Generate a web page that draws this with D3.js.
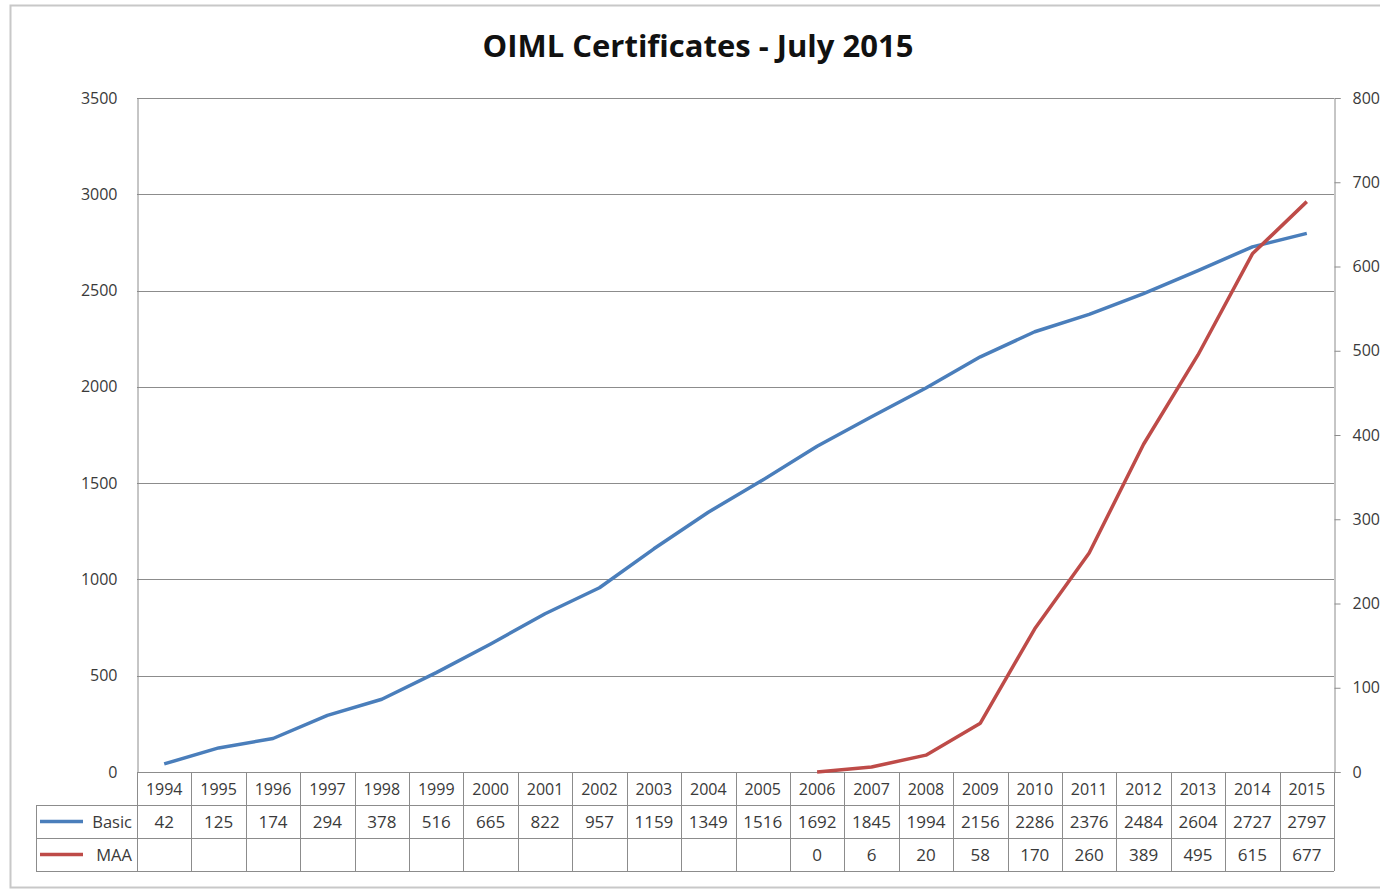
<!DOCTYPE html>
<html>
<head>
<meta charset="utf-8">
<script src="https://cdn.jsdelivr.net/npm/d3@7/dist/d3.min.js"></script>
<style>
  html, body { margin: 0; padding: 0; background: #fff; }
  svg { display: block; font-family: "Open Sans", "DejaVu Sans", sans-serif; }
</style>
</head>
<body>
<svg id="chart" width="1380" height="891"></svg>
<script>
/* OIML certificates: line chart with a data table under the x axis */

const years = ["1994", "1995", "1996", "1997", "1998", "1999", "2000", "2001", "2002", "2003", "2004",
  "2005", "2006", "2007", "2008", "2009", "2010", "2011", "2012", "2013", "2014", "2015"];
const basic = [42, 125, 174, 294, 378, 516, 665, 822, 957, 1159, 1349,
  1516, 1692, 1845, 1994, 2156, 2286, 2376, 2484, 2604, 2727, 2797];
const maa = [null, null, null, null, null, null, null, null, null, null, null,
  null, 0, 6, 20, 58, 170, 260, 389, 495, 615, 677];
const leftTicks = [0, 500, 1000, 1500, 2000, 2500, 3000, 3500];
const rightTicks = [0, 100, 200, 300, 400, 500, 600, 700, 800];

const BLUE = "#4a7ebb";
const RED = "#be4b48";
const GRID = "#8c8c8c";
const TXT = "#3a3a3a";

const svg = d3.select("#chart");

const plot = { left: 137, right: 1334, top: 98, bottom: 772 };
const rowH = 33;

// outer chart frame
svg.append("rect")
  .attr("x", 10.5).attr("y", 5.5)
  .attr("width", 1400).attr("height", 882)
  .attr("fill", "#fff")
  .attr("stroke", "#c8c8c8").attr("stroke-width", 2);

svg.append("text")
  .attr("x", 698).attr("y", 57)
  .attr("text-anchor", "middle")
  .attr("font-size", 31).attr("font-weight", "bold")
  .attr("fill", "#111")
  .text("OIML Certificates - July 2015");

const x = d3.scaleBand().domain(years).range([plot.left, plot.right]);
const yL = d3.scaleLinear().domain([0, 3500]).range([plot.bottom, plot.top]);
const yR = d3.scaleLinear().domain([0, 800]).range([plot.bottom, plot.top]);

// gridlines
svg.append("g")
  .selectAll("line")
  .data(leftTicks)
  .join("line")
  .attr("x1", plot.left).attr("x2", plot.right)
  .attr("y1", (d) => Math.round(yL(d)) + 0.5).attr("y2", (d) => Math.round(yL(d)) + 0.5)
  .attr("stroke", GRID).attr("stroke-width", 1);

// left axis
const leftAxis = svg.append("g")
  .attr("transform", `translate(${plot.left + 0.5},0)`)
  .call(d3.axisLeft(yL).tickValues(leftTicks).tickFormat(d3.format("d")).tickSize(0).tickPadding(20));
leftAxis.select(".domain").attr("stroke", GRID);
leftAxis.selectAll("text")
  .attr("font-size", 16).attr("fill", TXT)
  .attr("font-family", "Open Sans, sans-serif");

// right axis
const rightAxis = svg.append("g")
  .attr("transform", `translate(${plot.right + 0.5},0)`)
  .call(d3.axisRight(yR).tickValues(rightTicks).tickFormat(d3.format("d")).tickSize(6).tickPadding(12));
rightAxis.select(".domain").attr("stroke", GRID);
rightAxis.selectAll("line").attr("stroke", GRID);
rightAxis.selectAll("text")
  .attr("font-size", 16).attr("fill", TXT)
  .attr("font-family", "Open Sans, sans-serif");

// data table
const table = svg.append("g");
const rows = [
  { name: "Basic", values: basic, color: BLUE },
  { name: "MAA", values: maa, color: RED },
];
const legendLeft = 36;

// year header row
table.selectAll("text.year")
  .data(years)
  .join("text")
  .attr("class", "year")
  .attr("x", (d) => x(d) + x.bandwidth() / 2)
  .attr("y", plot.bottom + rowH / 2 + 6)
  .attr("text-anchor", "middle")
  .attr("font-size", 16).attr("fill", TXT)
  .text((d) => d);

rows.forEach((row, i) => {
  const top = plot.bottom + rowH * (i + 1);
  table.selectAll(`text.v${i}`)
    .data(row.values)
    .join("text")
    .attr("x", (d, j) => x(years[j]) + x.bandwidth() / 2)
    .attr("y", top + rowH / 2 + 6.5)
    .attr("text-anchor", "middle")
    .attr("font-size", 17).attr("fill", TXT)
    .text((d) => (d === null ? "" : d));

  table.append("line")
    .attr("x1", legendLeft + 4).attr("x2", legendLeft + 47)
    .attr("y1", top + rowH / 2).attr("y2", top + rowH / 2)
    .attr("stroke", row.color).attr("stroke-width", 3.5);
  table.append("text")
    .attr("x", plot.left - 5)
    .attr("y", top + rowH / 2 + 6)
    .attr("text-anchor", "end")
    .attr("font-size", 16.5).attr("fill", TXT)
    .text(row.name);
});

// table grid lines
const tableBottom = plot.bottom + rowH * 3;
const hLines = [
  { y: plot.bottom, x1: plot.left },
  { y: plot.bottom + rowH, x1: legendLeft },
  { y: plot.bottom + rowH * 2, x1: legendLeft },
  { y: tableBottom, x1: legendLeft },
];
table.selectAll("line.h")
  .data(hLines)
  .join("line")
  .attr("x1", (d) => d.x1).attr("x2", plot.right)
  .attr("y1", (d) => d.y + 0.5).attr("y2", (d) => d.y + 0.5)
  .attr("stroke", GRID);

const colEdges = years.map((d) => x(d)).concat([plot.right]);
table.selectAll("line.v")
  .data(colEdges)
  .join("line")
  .attr("x1", (d) => Math.round(d) + 0.5).attr("x2", (d) => Math.round(d) + 0.5)
  .attr("y1", plot.bottom).attr("y2", tableBottom)
  .attr("stroke", GRID);
table.append("line")
  .attr("x1", legendLeft + 0.5).attr("x2", legendLeft + 0.5)
  .attr("y1", plot.bottom + rowH).attr("y2", tableBottom)
  .attr("stroke", GRID);

// series lines
const lineL = d3.line()
  .x((d, i) => x(years[i]) + x.bandwidth() / 2)
  .y((d) => yL(d));
const lineR = d3.line()
  .defined((d) => d !== null)
  .x((d, i) => x(years[i]) + x.bandwidth() / 2)
  .y((d) => yR(d));

svg.append("path")
  .attr("d", lineL(basic))
  .attr("fill", "none")
  .attr("stroke", BLUE).attr("stroke-width", 3.5)
  .attr("stroke-linejoin", "round");

svg.append("path")
  .attr("d", lineR(maa))
  .attr("fill", "none")
  .attr("stroke", RED).attr("stroke-width", 3.5)
  .attr("stroke-linejoin", "round");
</script>
</body>
</html>
